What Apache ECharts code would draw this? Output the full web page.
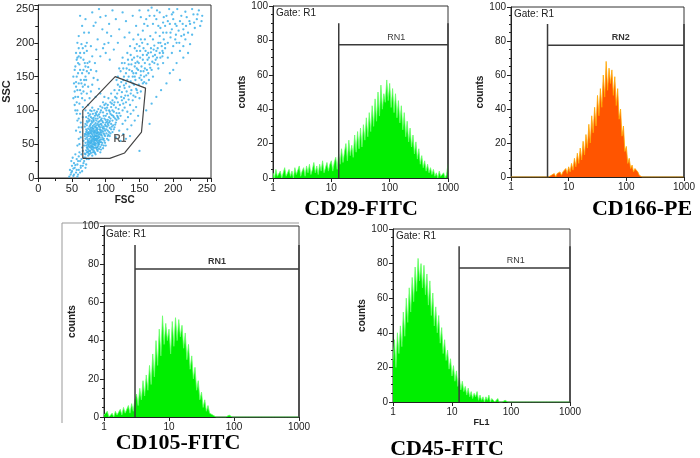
<!DOCTYPE html>
<html><head><meta charset="utf-8">
<script src="https://cdn.jsdelivr.net/npm/echarts@6/dist/echarts.min.js"></script>
<style>html,body{margin:0;padding:0;background:#fff}#c{width:700px;height:458px}</style>
</head><body><div id="c"></div>
<script>
// ---- Scatter (FSC vs SSC) ----
const scatterPoints = [
[72,45],[75,52],[78,48],[80,55],[82,60],[84,52],[86,58],[88,63],[90,55],[92,68],[74,62],[77,70],[79,66],[81,73],[83,68],[85,75],[87,70],[89,78],[91,72],[93,80],[76,40],[79,43],[81,38],[84,45],[87,42],[89,48],[92,46],[95,52],[97,58],[99,62],[73,57],[76,58],[78,61],[80,64],[82,57],[85,63],[87,66],[90,61],[93,64],[96,69],[98,73],[100,77],[71,68],[74,73],[77,78],[80,82],[83,79],[86,85],[88,88],[91,84],[94,88],[97,92],[100,86],[102,95],[105,90],[73,50],[76,54],[79,57],[82,50],[85,48],[88,53],[90,50],[93,57],[95,60],[98,55],[101,66],[103,70],[106,74],[108,80],[110,85],[75,65],[78,74],[81,62],[84,70],[86,78],[89,67],[92,75],[94,70],[96,82],[99,79],[102,83],[104,78],[107,88],[109,93],[112,98],[70,52],[72,60],[74,47],[77,45],[80,50],[83,55],[85,58],[88,58],[91,60],[94,63],[72,78],[75,84],[78,90],[81,95],[84,92],[87,98],[90,94],[93,100],[96,97],[99,103],[76,35],[80,33],[84,37],[88,40],[92,38],[96,44],[100,48],[104,56],[106,62],[110,68],[113,75],[115,82],[83,65],[85,68],[87,61],[89,59],[91,66],[86,55],[84,62],[82,67],[79,71],[77,62],[95,75],[97,66],[101,72],[103,62],[105,68],[108,72],[111,78],[114,88],[117,92],[120,96],
[71,41],[73,44],[74,39],[77,51],[79,53],[81,46],[83,49],[86,51],[87,45],[89,52],[91,56],[93,53],[94,49],[96,57],[98,64],[70,58],[72,64],[75,68],[77,66],[79,60],[81,58],[83,61],[84,58],[86,62],[88,68],[90,64],[92,71],[94,67],[97,76],[99,70],[71,72],[73,67],[76,76],[78,80],[81,77],[82,84],[85,81],[87,74],[89,83],[91,79],[93,86],[95,84],[98,88],[100,92],[103,86],[74,88],[77,94],[80,88],[83,100],[86,94],[89,102],[92,97],[95,104],[98,108],[101,100],[78,37],[82,41],[85,35],[88,46],[90,43],[93,42],[97,48],[99,52],[102,58],[104,64],[107,66],[109,76],[112,72],[114,79],[116,86],[118,90],[84,56],[86,66],[88,72],[80,69],[78,55],[76,46],[74,55],[82,73],[90,76],[94,78],[96,73],[100,82],[102,76],[105,82],[107,95],[110,100],[112,90],[106,84],[103,80],[69,62],[68,48],[69,76],[72,84],[75,92],[79,99],[82,89],[85,96],[88,92],[91,90],
[70,35],[72,38],[74,42],[75,36],[77,40],[79,46],[80,42],[82,44],[83,39],[86,44],[71,48],[73,53],[75,49],[78,52],[80,47],[82,53],[84,50],[87,56],[89,50],[91,53],[70,65],[72,70],[74,66],[76,72],[78,68],[80,75],[82,70],[84,76],[86,72],[88,80],[70,80],[73,82],[76,86],[79,84],[82,86],[85,88],[71,90],[74,96],[77,100],[80,104],
[105,100],[108,105],[112,108],[115,104],[118,112],[121,108],[124,115],[127,118],[130,112],[133,122],[110,115],[114,120],[117,125],[120,130],[124,127],[128,133],[131,128],[135,135],[138,130],[142,138],[103,108],[107,112],[111,92],[116,96],[119,88],[122,92],[125,100],[128,104],[132,98],[136,108],[140,115],[144,120],[147,126],[150,118],[125,80],[129,85],[133,90],[137,95],[141,100],[145,105],[120,70],[126,65],[132,72],[138,78],[143,85],[148,92],[115,60],[122,55],[130,58],[136,62],[113,130],[118,138],[123,142],[127,137],[132,145],[140,140],[145,132],[152,128],[155,140],[100,110],[104,118],[108,125],[96,112],[92,106],[98,120],
[102,104],[106,98],[109,110],[113,112],[116,118],[119,102],[123,120],[126,110],[129,122],[134,116],[137,125],[141,122],[146,130],[149,138],[153,145],[157,150],[160,140],[163,155],[166,163],[169,172],[173,182],[177,192],[181,200],[184,188],[188,198],[139,158],[143,150],[146,162],[149,170],[152,158],[155,175],[158,162],[161,182],[164,178],[167,186],[171,190],[174,175],[177,168],[181,178],[185,185],[121,135],[126,145],[130,140],[134,150],[137,143],[141,155],[144,170],[147,180],[151,188],[156,192],[116,145],[120,162],[124,170],[127,150],[131,162],[134,168],[139,175],[143,192],[146,198],[152,205],
[140,150],[145,155],[148,160],[150,148],[153,165],[156,158],[158,170],[160,152],[162,175],[165,168],[143,165],[147,172],[151,178],[155,182],[159,188],[163,185],[167,192],[170,180],[172,196],[175,188],[135,160],[138,168],[130,155],[126,162],[133,175],[137,182],[142,178],[146,188],[150,195],[154,200],[158,205],[162,198],[166,210],[170,205],[174,215],[178,200],[180,210],[183,195],[186,205],[190,215],[168,160],[172,170],[176,178],[180,185],[184,180],[188,192],[192,200],[196,208],[200,195],[204,212],[164,145],[170,150],[178,162],[185,170],[192,178],[198,185],[118,150],[122,158],[128,170],[132,185],[125,178],[136,195],[141,205],[148,212],[155,218],[162,225],[144,145],[152,152],[157,142],[161,160],
[205,225],[210,232],[215,220],[220,238],[225,228],[230,242],[235,235],[240,225],[238,248],[228,250],[218,246],[212,240],[200,235],[195,228],[190,240],[185,230],[180,245],[175,235],[170,228],[165,240],[160,235],[205,200],[212,210],[218,205],[222,215],[228,212],[232,222],[210,188],[215,195],[198,220],[188,225],[176,248],[168,252],[194,250],[185,215],[225,198],[242,232],[178,225],[200,245],[206,250],
[186,238],[192,232],[198,242],[203,228],[208,218],[214,228],[219,225],[224,232],[231,230],[236,242],[243,240],[196,215],[203,205],[209,200],[216,212],[181,222],[172,240],[163,248],[157,228],[152,238],
[55,120],[58,130],[60,140],[57,150],[62,160],[59,170],[63,178],[56,185],[61,110],[64,125],[66,135],[68,145],[65,155],[70,165],[67,175],[72,188],[58,100],[62,95],[66,105],[69,115],[72,125],[74,135],[71,145],[75,155],[73,170],[60,192],[64,198],[68,185],[55,165],[53,140],[57,112],[76,118],[78,128],[80,138],[82,148],[78,160],[84,170],[80,180],[86,158],[88,145],[90,132],[92,125],[85,120],[70,100],[74,108],
[54,128],[56,142],[59,155],[61,168],[63,145],[65,118],[67,128],[69,138],[70,150],[72,158],[74,164],[76,172],[58,178],[62,185],[66,192],[70,195],[54,108],[57,95],[60,88],[63,82],[66,90],[64,75],[62,68],[60,58],[58,48],[61,50],[63,60],[65,45],[67,55],[69,65],
[52,150],[54,160],[57,175],[60,180],[56,135],[59,120],[62,130],[64,140],[67,160],[69,170],[52,118],[55,100],[58,85],[60,75],[56,70],
[48,5],[50,10],[52,3],[54,15],[56,8],[58,20],[60,12],[62,25],[50,18],[53,22],[57,28],[60,32],[63,18],[65,10],[67,22],[68,30],[70,15],[72,28],[47,12],[49,25],[55,35],[59,5],[61,38],[64,35],[66,40],[69,36],[71,20],[74,33],[51,30],[46,2],
[49,8],[52,14],[55,19],[57,12],[59,25],[62,8],[64,28],[66,18],[68,25],[70,30],[73,38],[75,28],[53,5],[58,2],[63,15],
[60,210],[65,225],[70,235],[75,215],[80,245],[85,230],[90,250],[95,220],[100,240],[105,228],[110,248],[62,240],[72,200],[78,195],[88,205],[98,198],[108,210],[115,235],[120,220],[125,245],[130,232],[135,215],[140,240],[145,225],[150,248],[92,180],[100,185],[106,175],[112,190],
[58,200],[68,215],[82,225],[92,238],[102,215],[118,200],[128,208],[86,190],[96,192],[104,200],
[160,100],[168,110],[175,120],[182,130],[190,140],[210,145],[200,160],[150,40],[165,80],[195,155],[205,170],[215,178],[222,185]
];
const gatePolygon = [[66,29],[66,100],[114,150],[159,133],[153,68],[128,37],[106,29],[66,29]];
const gateLabelR1 = [121, 58];

// ---- Histograms: counts per channel (40 channels per decade, 1..1000) ----
const cd29Counts = [
3,0,5,1,2,4,0,3,6,1, 2,5,1,4,0,6,2,3,7,1, 4,6,1,7,3,8,2,5,9,3, 7,2,8,4,10,3,6,9,4,8,
10,4,9,12,5,14,8,17,9,15, 20,10,22,13,19,12,25,15,27,17, 29,18,31,22,35,24,38,27,42,30, 46,33,50,36,54,40,49,44,57,45,
55,41,52,38,49,35,45,32,42,28, 38,24,33,21,29,18,25,14,21,11, 17,8,13,6,10,4,8,3,6,2, 5,1,3,0,4,1,2,3,0,2, 8];
const cd166Counts = [
0,0,0,0,0,0,0,0,0,0, 0,0,0,0,0,0,0,0,0,0, 0,0,0,0,0,0,0,0,1,0, 2,0,2,1,3,1,3,2,5,2,
6,3,8,4,11,6,14,8,17,10, 21,13,25,17,31,20,36,26,41,30, 48,36,52,41,60,47,68,51,64,55, 63,48,59,42,52,34,40,24,30,15,
18,8,11,5,7,3,5,6,3,1, 0,0,0,0,0,0,0,0,0,0, 0,0,0,0,0,0,0,0,0,0, 0,0,0,0,0,0,0,0,0,0, 0];
const cd105Counts = [
1,0,3,0,1,2,0,3,1,2, 4,1,5,2,3,6,2,7,3,9, 12,6,15,9,19,11,22,14,27,17, 33,21,40,27,46,32,53,38,49,40,
46,33,50,37,52,40,51,42,48,36, 44,30,38,25,32,20,26,14,19,9, 13,5,9,3,6,2,3,1,2,0, 1,0,1,0,1,0,0,1,0,0,
0,0,0,0,0,0,0,0,0,0, 0,0,0,0,0,0,0,0,0,0, 0,0,0,0,0,0,0,0,0,0, 0,0,0,0,0,0,0,0,0,0, 0];
const cd45Counts = [
24,36,20,40,28,44,32,52,38,60, 46,66,52,72,58,78,64,83,70,80, 66,79,62,74,56,70,50,63,44,55, 40,50,34,43,28,36,24,30,19,25,
15,21,12,18,9,14,7,12,6,9, 4,8,3,6,2,5,3,6,1,4, 1,3,0,3,1,4,0,2,3,0, 1,2,0,1,0,0,1,0,0,1,
0,0,0,0,0,0,0,0,0,0, 0,0,0,0,0,0,0,0,0,0, 0,0,0,0,0,0,0,0,0,0, 0,0,0,0,0,0,0,0,0,0, 0];

// gate markers [start, end] on the fluorescence axis, and marker label positions
const gateCD29 = [13.4, 1000], gateCD166 = [4.3, 1000], gateCD105 = [3, 1000], gateCD45 = [13.2, 1000];
const gateTop = 90, gateBar = 77.5;
const gateNames = ['RN1', 'RN2', 'RN1', 'RN1'];
const gateLabelX = [130, 80, 55, 120];
const panelTitles = ['CD29-FITC', 'CD166-PE', 'CD105-FITC', 'CD45-FITC'];

const FONT = '"Liberation Sans", Arial, sans-serif';
const AX = '#222';

function yCounts(gridIndex, nameGap) {
  return {type:'value', gridIndex, min:0, max:100, interval:20,
    axisLine:{show:true, lineStyle:{color:AX}}, axisTick:{show:true, length:4, lineStyle:{color:AX}},
    minorTick:{show:true, splitNumber:4, length:2, lineStyle:{color:AX}}, splitLine:{show:false},
    axisLabel:{color:AX, fontSize:10, fontFamily:FONT, margin:5},
    name:'counts', nameLocation:'middle', nameGap, nameRotate:90,
    nameTextStyle:{fontWeight:'bold', fontSize:10, color:AX, fontFamily:FONT}};
}
function xLog(gridIndex, name) {
  return {type:'log', logBase:10, gridIndex, min:1, max:1000,
    axisLine:{show:true, lineStyle:{color:AX}}, axisTick:{show:true, length:4, lineStyle:{color:AX}},
    splitLine:{show:false},
    axisLabel:{color:AX, fontSize:10, fontFamily:FONT, margin:5, formatter:v=>String(Math.round(v))},
    name: name || '', nameLocation:'middle', nameGap:15,
    nameTextStyle:{fontWeight:'bold', fontSize:9, color:AX, fontFamily:FONT}};
}
function xChan(gridIndex) { return {type:'value', gridIndex, min:0, max:120, show:false}; }

function hist(xi, yi, counts, fill, edge) {
  return {type:'line', xAxisIndex:xi, yAxisIndex:yi, data:counts.map((v,i)=>[i,v]),
    symbol:'none', silent:true, lineStyle:{color:edge, width:0.8}, areaStyle:{color:fill, opacity:1}, z:2};
}
function gate(xi, yi, g, name, lx, bold) {
  return [
    {type:'line', xAxisIndex:xi, yAxisIndex:yi, symbol:'none', silent:true, z:5,
     data:[[g[0],0],[g[0],gateTop],[g[0],gateBar],[g[1],gateBar],[g[1],gateTop],[g[1],0]],
     lineStyle:{color:'#3a3a3a', width:1.5}},
    {type:'scatter', xAxisIndex:xi, yAxisIndex:yi, symbolSize:0, silent:true, z:6,
     data:[[lx, gateBar]],
     label:{show:true, position:'top', distance:3, formatter:name, fontSize:9, color:'#000',
            fontWeight: bold ? 'bold' : 'normal', fontFamily:FONT}}
  ];
}

const gridStyle = {show:true, borderColor:'#333', borderWidth:1, backgroundColor:'#fff'};
const option = {
  animation:false,
  backgroundColor:'#fff',
  grid:[
    Object.assign({left:35, top:5, width:176, height:173}, gridStyle),
    Object.assign({left:273, top:6, width:175, height:172}, gridStyle),
    Object.assign({left:511, top:7, width:173, height:170}, gridStyle),
    Object.assign({left:104, top:226, width:195, height:191}, gridStyle),
    Object.assign({left:393, top:229, width:177, height:173}, gridStyle)
  ],
  xAxis:[
    {type:'value', gridIndex:0, min:0, max:256, interval:50,
     axisLine:{lineStyle:{color:AX}}, axisTick:{length:4, lineStyle:{color:AX}},
     minorTick:{show:true, splitNumber:2, length:3, lineStyle:{color:AX}}, splitLine:{show:false},
     axisLabel:{color:AX, fontSize:11, fontFamily:FONT, margin:5, showMaxLabel:false},
     name:'FSC', nameLocation:'middle', nameGap:14,
     nameTextStyle:{fontWeight:'bold', fontSize:10, color:AX, fontFamily:FONT}},
    xLog(1), xChan(1), xLog(2), xChan(2), xLog(3), xChan(3), xLog(4, 'FL1'), xChan(4)
  ],
  yAxis:[
    {type:'value', gridIndex:0, min:0, max:256, interval:50,
     axisLine:{show:true, lineStyle:{color:AX}}, axisTick:{show:true, length:4, lineStyle:{color:AX}},
     minorTick:{show:true, splitNumber:2, length:3, lineStyle:{color:AX}}, splitLine:{show:false},
     axisLabel:{color:AX, fontSize:11, fontFamily:FONT, margin:4, showMaxLabel:false},
     name:'SSC', nameLocation:'middle', nameGap:26, nameRotate:90,
     nameTextStyle:{fontWeight:'bold', fontSize:11, color:AX, fontFamily:FONT}},
    yCounts(1, 24), yCounts(2, 24), yCounts(3, 27), yCounts(4, 24)
  ],
  series:[
    {type:'scatter', xAxisIndex:0, yAxisIndex:0, data:scatterPoints, symbolSize:2.3, silent:true,
     itemStyle:{color:'#3cb0ea', opacity:0.85}},
    {type:'line', xAxisIndex:0, yAxisIndex:0, data:gatePolygon, symbol:'none', silent:true, z:5,
     lineStyle:{color:'#444', width:1.2}},
    {type:'scatter', xAxisIndex:0, yAxisIndex:0, data:[gateLabelR1], symbolSize:0, silent:true, z:6,
     label:{show:true, position:'inside', formatter:'R1', fontSize:10, fontWeight:'bold', color:'#333', fontFamily:FONT}},
    hist(2, 1, cd29Counts, '#00ee00', '#66ff66'),
    ...gate(1, 1, gateCD29, gateNames[0], gateLabelX[0], false),
    hist(4, 2, cd166Counts, '#ff5500', '#ffaa00'),
    ...gate(3, 2, gateCD166, gateNames[1], gateLabelX[1], true),
    hist(6, 3, cd105Counts, '#00ee00', '#66ff66'),
    ...gate(5, 3, gateCD105, gateNames[2], gateLabelX[2], true),
    hist(8, 4, cd45Counts, '#00ee00', '#66ff66'),
    ...gate(7, 4, gateCD45, gateNames[3], gateLabelX[3], false)
  ],
  graphic:[
    {type:'polyline', shape:{points:[[62,423],[62,223],[299,223]]}, style:{stroke:'#999', lineWidth:1, fill:null}, z:-1},
    {type:'text', left:276, top:8, style:{text:'Gate: R1', font:'10px '+FONT, fill:'#222'}},
    {type:'text', left:514, top:9, style:{text:'Gate: R1', font:'10px '+FONT, fill:'#222'}},
    {type:'text', left:106, top:229, style:{text:'Gate: R1', font:'10px '+FONT, fill:'#222'}},
    {type:'text', left:396, top:231, style:{text:'Gate: R1', font:'10px '+FONT, fill:'#222'}},
    {type:'text', x:361, y:209, style:{text:panelTitles[0], font:'bold 22px "Liberation Serif", "Times New Roman", serif', fill:'#000', align:'center', verticalAlign:'middle'}},
    {type:'text', x:642, y:209, style:{text:panelTitles[1], font:'bold 22px "Liberation Serif", "Times New Roman", serif', fill:'#000', align:'center', verticalAlign:'middle'}},
    {type:'text', x:178, y:443, style:{text:panelTitles[2], font:'bold 22px "Liberation Serif", "Times New Roman", serif', fill:'#000', align:'center', verticalAlign:'middle'}},
    {type:'text', x:447, y:449, style:{text:panelTitles[3], font:'bold 22px "Liberation Serif", "Times New Roman", serif', fill:'#000', align:'center', verticalAlign:'middle'}}
  ]
};
const chart = echarts.init(document.getElementById('c'), null, {renderer:'canvas'});
chart.setOption(option);
</script>
</body></html>
